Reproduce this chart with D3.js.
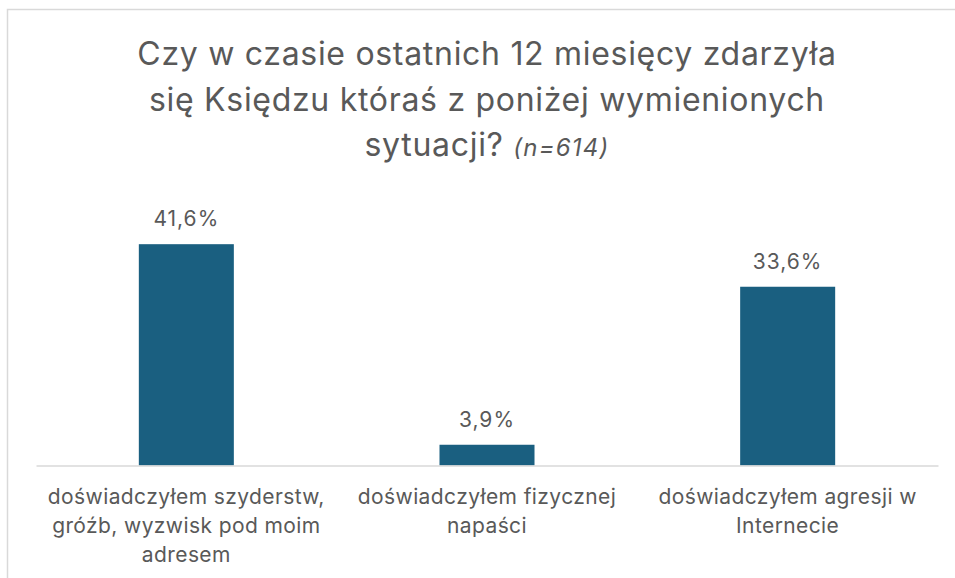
<!DOCTYPE html>
<html><head><meta charset="utf-8">
<script src="https://cdn.jsdelivr.net/npm/d3@7"></script>
<style>html,body{margin:0;padding:0;background:#fff;}svg{display:block;}</style>
</head><body>
<svg id="c" width="955" height="578"></svg>
<script>
const titleLines = ["Czy w czasie ostatnich 12 miesięcy zdarzyła", "się Księdzu któraś z poniżej wymienionych", "sytuacji?"];
const titleNote = "(n=614)";
const categories = ["szyderstwa", "napasc", "internet"];
const categoryLabels = [
  ["doświadczyłem szyderstw,", "gróźb, wyzwisk pod moim", "adresem"],
  ["doświadczyłem fizycznej", "napaści"],
  ["doświadczyłem agresji w", "Internecie"]
];
const values = [41.6, 3.9, 33.6];

const FONT = "Inter, 'Open Sans', sans-serif";
const TEXT = "#595959";
const svg = d3.select("#c");

svg.append("rect").attr("x", 7.5).attr("y", 9.5).attr("width", 1000).attr("height", 1000)
  .attr("fill", "#fff").attr("stroke", "#d9d9d9").attr("stroke-width", 1.5);

const x = d3.scaleBand().domain(categories).range([36, 938]).paddingInner(0.684).paddingOuter(0.342);
const y = d3.scaleLinear().domain([0, 50]).range([465.5, 199.5]);

// title
const t = svg.append("text").attr("font-family", FONT).attr("fill", TEXT).attr("text-anchor", "middle");
titleLines.forEach((l, i) => {
  const ts = t.append("tspan").attr("x", 487).attr("y", 65 + i * 45.5)
    .attr("font-size", 32).attr("letter-spacing", 0.7).text(l);
  if (i === titleLines.length - 1) {
    ts.text(l + " ");
    t.append("tspan").attr("font-size", 24).attr("letter-spacing", 1.2).attr("font-style", "italic").text(titleNote);
  }
});

// bars
svg.append("g").selectAll("rect").data(values).join("rect")
  .attr("x", (d, i) => x(categories[i]))
  .attr("width", x.bandwidth())
  .attr("y", d => y(d))
  .attr("height", d => y(0) - y(d))
  .attr("fill", "#1a5f80");

// axis
const ax = svg.append("g").attr("transform", `translate(0,${y(0)})`)
  .call(d3.axisBottom(x).tickSize(0).tickFormat(""));
ax.select(".domain").attr("stroke", "#d9d9d9").attr("stroke-width", 1.5);

// value labels
svg.append("g").selectAll("text").data(values).join("text")
  .attr("x", (d, i) => x(categories[i]) + x.bandwidth() / 2)
  .attr("y", d => y(d) - 18)
  .attr("text-anchor", "middle").attr("font-family", FONT).attr("font-size", 21)
  .attr("letter-spacing", 1).attr("fill", TEXT)
  .text(d => d.toFixed(1).replace(".", ",") + "%");

// category labels
const cl = svg.append("g").selectAll("text").data(categoryLabels).join("text")
  .attr("text-anchor", "middle").attr("font-family", FONT).attr("font-size", 21)
  .attr("letter-spacing", 0.4).attr("fill", TEXT);
cl.each(function(lines, i) {
  d3.select(this).selectAll("tspan").data(lines).join("tspan")
    .attr("x", x(categories[i]) + x.bandwidth() / 2)
    .attr("y", (d, j) => 504 + j * 29)
    .text(d => d);
});
</script>
</body></html>
